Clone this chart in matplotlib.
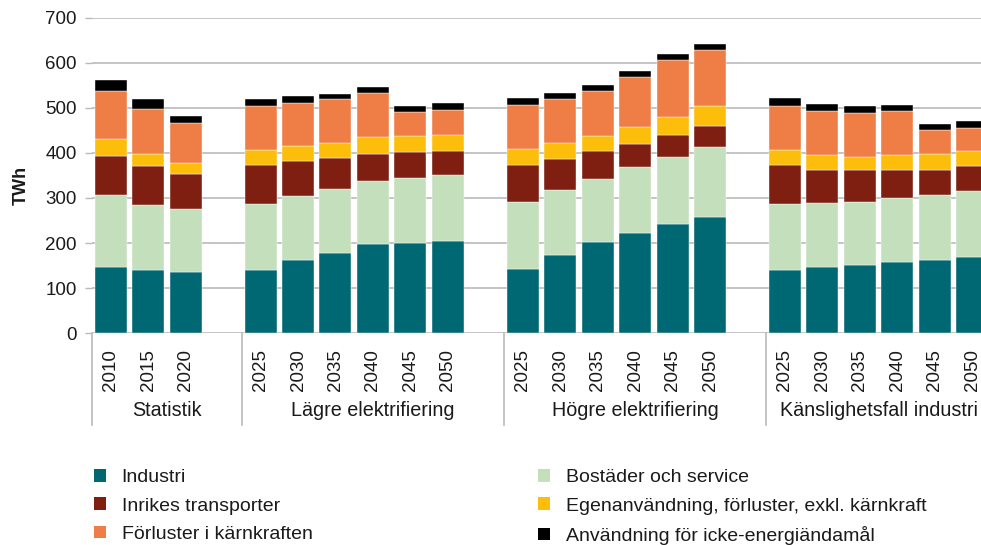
import matplotlib
matplotlib.use("Agg")
import matplotlib.pyplot as plt
import matplotlib.transforms as mtransforms
from matplotlib.patches import Patch
import numpy as np

# Data (TWh)
groups = ['Statistik', 'Lägre elektrifiering', 'Högre elektrifiering', 'Känslighetsfall industri']
group_years = [
    ['2010', '2015', '2020'],
    ['2025', '2030', '2035', '2040', '2045', '2050'],
    ['2025', '2030', '2035', '2040', '2045', '2050'],
    ['2025', '2030', '2035', '2040', '2045', '2050'],
]

series_names = ['Industri', 'Bostäder och service', 'Inrikes transporter',
                'Egenanvändning, förluster, exkl. kärnkraft',
                'Förluster i kärnkraften', 'Användning för icke-energiändamål']

industri = [148, 140, 136, 140, 163, 179, 197, 201, 204,
            143, 174, 202, 222, 242, 258, 140, 146, 151, 159, 163, 169]
bostader = [159, 144, 140, 147, 142, 140, 140, 144, 146,
            149, 143, 141, 146, 149, 154, 147, 143, 141, 140, 144, 146]
transport = [86, 87, 77, 86, 76, 70, 61, 56, 54,
             81, 69, 61, 51, 49, 48, 86, 74, 69, 64, 56, 55]
egen = [37, 26, 24, 34, 34, 33, 37, 37, 36,
        36, 36, 34, 38, 40, 44, 34, 33, 31, 33, 34, 34]
karnkraft = [107, 100, 89, 97, 96, 97, 97, 53, 56,
             97, 97, 99, 111, 126, 125, 97, 98, 97, 98, 53, 51]
icke_energi = [25, 23, 15, 15, 16, 12, 15, 12, 15,
               15, 13, 13, 14, 13, 13, 17, 15, 15, 13, 13, 16]

colors = ['#006872', '#c4dfbb', '#7e1f11', '#fcbe0b', '#ef7d46', '#000000']

plt.rcParams['font.family'] = ['Liberation Sans', 'DejaVu Sans']
text_color = '#1a1a1a'

W, H = 981, 545
fig = plt.figure(figsize=(W / 100, H / 100), dpi=100)
# axes right edge goes past the picture, as in the original (last bar is cut)
ax_left, ax_right = 92 / W, 991 / W
ax_bottom, ax_top = 1 - 333.3 / H, 1 - 17.6 / H
ax = fig.add_axes([ax_left, ax_bottom, ax_right - ax_left, ax_top - ax_bottom])

# x positions: one empty slot after each group
positions = []
bounds = []
start = 0
for yrs in group_years:
    positions += list(range(start, start + len(yrs)))
    bounds.append((start - 0.5, start + len(yrs) - 0.5))
    start += len(yrs) + 1
positions = np.array(positions)
years = [y for yrs in group_years for y in yrs]

data = [industri, bostader, transport, egen, karnkraft, icke_energi]
bottom = np.zeros(len(positions))
for vals, c in zip(data, colors):
    ax.bar(positions, vals, width=0.855, bottom=bottom, color=c,
           edgecolor='white', linewidth=0.3, zorder=3)
    bottom += np.array(vals)

ax.set_xlim(-0.5, positions[-1] + 0.5)
ax.set_ylim(0, 700)
ax.set_yticks(range(0, 701, 100))
ax.yaxis.grid(True, color='#bababa', linewidth=1.2, zorder=0)
ax.set_axisbelow(True)
for s in ['left', 'right', 'top', 'bottom']:
    ax.spines[s].set_visible(False)
ax.tick_params(axis='y', length=5, width=1, color='#bababa', labelsize=13.5,
               labelcolor=text_color, pad=6)
ax.set_xticks([])

# category axis: year labels, group labels, separator lines
trans = mtransforms.blended_transform_factory(ax.transData, ax.transAxes)
ax_h = 315.7
for x, y in zip(positions, years):
    ax.text(x, -(370 - 333.3) / ax_h, y, rotation=90, ha='center', va='center',
            fontsize=13.5, color=text_color, transform=trans)

for i, (g, (b0, b1)) in enumerate(zip(groups, bounds)):
    right = b1 + 1 if i < len(groups) - 1 else b1
    ax.text((b0 + right) / 2, -(411 - 333.3) / ax_h, g, ha='center', va='center',
            fontsize=14.2, color=text_color, transform=trans)
    ax.plot([b0, b0], [0, -(425 - 333.3) / ax_h], color='#bababa', linewidth=1.2,
            transform=trans, clip_on=False)

fig.text(21 / W, 1 - 185 / H, 'TWh', rotation=90, ha='center', va='center',
         fontsize=13, fontweight='bold', color=text_color)

# legend in two columns
handles = [Patch(facecolor=c, edgecolor='none') for c in colors]
leg_kw = dict(frameon=False, fontsize=14, handlelength=0.62, handleheight=0.62,
              handletextpad=0.8, labelspacing=0.58, borderpad=0, borderaxespad=0,
              loc='upper left', labelcolor=text_color)
leg1 = fig.legend([handles[0], handles[2], handles[4]],
                  [series_names[0], series_names[2], series_names[4]],
                  bbox_to_anchor=(94 / W, 1 - 469 / H), **leg_kw)
leg2 = fig.legend([handles[1], handles[3], handles[5]],
                  [series_names[1], series_names[3], series_names[5]],
                  bbox_to_anchor=(538 / W, 1 - 469 / H), **leg_kw)

fig.savefig('out.png', dpi=100)
